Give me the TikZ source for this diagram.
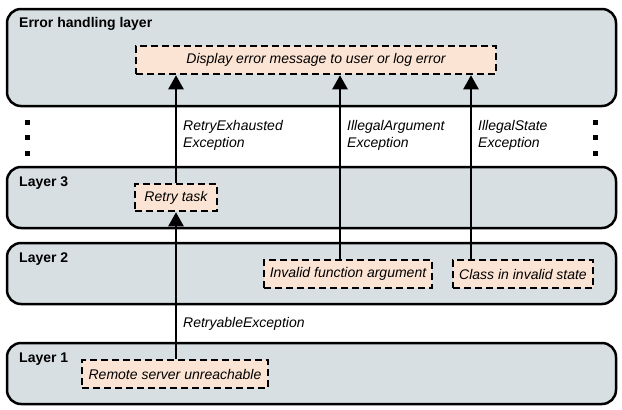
\documentclass[tikz,border=0pt]{standalone}
\usepackage{fontspec}
\setmainfont{Liberation Sans}
\usetikzlibrary{arrows.meta}
\definecolor{layerfill}{RGB}{216,223,226}
\definecolor{boxfill}{RGB}{252,228,212}
\tikzset{
  layerbox/.style={draw=black, line width=2.5pt, fill=layerfill, rounded corners=14pt,
    minimum width=609pt, inner sep=0pt},
  layertitle/.style={anchor=west, font=\fontsize{14}{17}\selectfont\bfseries, inner sep=0pt},
  errbox/.style={draw=black, line width=2.5pt, dash pattern=on 7pt off 4pt, fill=boxfill,
    minimum height=28pt, inner sep=0pt, font=\fontsize{14}{17}\selectfont\itshape},
  flow/.style={line width=2.5pt, -{Triangle[length=14pt, width=15pt]}},
  flowlabel/.style={anchor=west, align=left, inner sep=0pt, font=\fontsize{14}{17}\selectfont\itshape},
  dotmark/.style={fill=black, minimum size=5pt, inner sep=0pt}
}
\begin{document}
\begin{tikzpicture}[x=1pt, y=-1pt]
\useasboundingbox (0,0) rectangle (622,410);
% layers
\node[layerbox, minimum height=97pt] (errlayer) at (311.5,57.5) {};
\node[layerbox, minimum height=61pt] (layer3) at (311.5,197.5) {};
\node[layerbox, minimum height=61pt] (layer2) at (311.5,273.5) {};
\node[layerbox, minimum height=61pt] (layer1) at (311.5,373.5) {};
\node[layertitle] (terr) at (19,24) {Error handling layer};
\node[layertitle] (t3) at (19,183) {Layer 3};
\node[layertitle] (t2) at (19,259) {Layer 2};
\node[layertitle] (t1) at (19,359) {Layer 1};
% dots
\foreach \yy [count=\i] in {122,137.5,153} {
  \node[dotmark] (dl\i) at (27,\yy) {};
  \node[dotmark] (dr\i) at (595,\yy) {};
}
% error boxes
\node[errbox, minimum width=360pt] (disp) at (316,60) {Display error message to user or log error};
\node[errbox, minimum width=82pt, minimum height=27pt] (retry) at (176,197.5) {Retry task};
\node[errbox, minimum width=168pt] (inv) at (348,274) {Invalid function argument};
\node[errbox, minimum width=140pt] (cls) at (523,274) {Class in invalid state};
\node[errbox, minimum width=186pt] (remote) at (175,374) {Remote server unreachable};
% arrow columns
\coordinate (xa) at (176,0);
\coordinate (xb) at (340,0);
\coordinate (xc) at (471,0);
\draw[flow] (remote.north -| xa) -- (retry.south -| xa);
\draw[flow] (retry.north -| xa) -- (disp.south -| xa);
\draw[flow] (inv.north -| xb) -- (disp.south -| xb);
\draw[flow] (cls.north -| xc) -- (disp.south -| xc);
% labels
\node[flowlabel] (l1) at (183,135) {RetryExhausted\\Exception};
\node[flowlabel] (l2) at (347,135) {IllegalArgument\\Exception};
\node[flowlabel] (l3) at (478,135) {IllegalState\\Exception};
\node[flowlabel] (l4) at (183,324) {RetryableException};
\end{tikzpicture}
\end{document}
